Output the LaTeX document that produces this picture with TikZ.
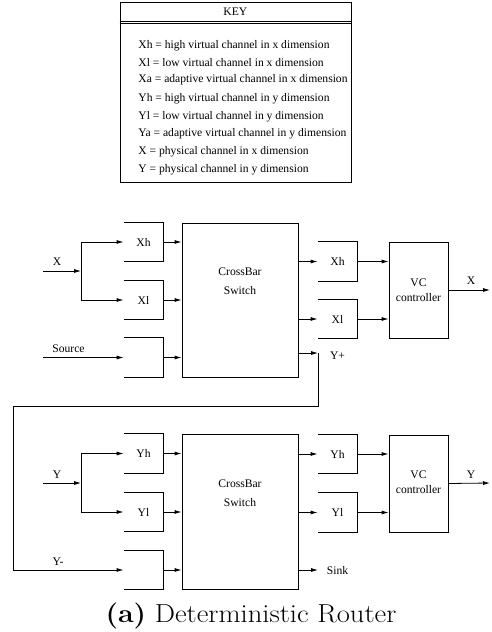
\documentclass[tikz,border=0pt]{standalone}
\usepackage{fontspec}
\setmainfont{Liberation Serif}
\newfontfamily\capfont{Latin Modern Roman}
\usetikzlibrary{arrows.meta}

\tikzset{
  lbl/.style={font=\fontsize{11.6}{14}\selectfont, inner sep=0pt},
  buf/.style={lbl, minimum width=39pt, minimum height=38.5pt},
  box/.style={draw, lbl},
  twoline/.style={lbl, align=center, font=\fontsize{11.6}{#1}\selectfont},
  wire/.style={->},
}

\begin{document}
\begin{tikzpicture}[x=1pt, y=-1pt, line width=0.8pt,
  >={Latex[length=7pt,width=4pt]}]
\useasboundingbox (0,0) rectangle (492,632);

% ---------- key ----------
\node[draw, minimum width=231pt, minimum height=180.5pt, anchor=north west, inner sep=0pt]
  (key) at (119.5,1.5) {};
\draw ([yshift=-19.5pt]key.north west) -- ([yshift=-19.5pt]key.north east);
\draw ([yshift=-22pt]key.north west) -- ([yshift=-22pt]key.north east);
\node[lbl] (keyhead) at (key.north |- 0,12) {KEY};
\foreach \i/\yy/\txt in {
  1/45.7/{Xh = high virtual channel in x dimension},
  2/62.3/{Xl = low virtual channel in x dimension},
  3/80/{Xa = adaptive virtual channel in x dimension},
  4/98.7/{Yh = high virtual channel in y dimension},
  5/116.7/{Yl = low virtual channel in y dimension},
  6/133.3/{Ya = adaptive virtual channel in y dimension},
  7/151.7/{X = physical channel in x dimension},
  8/169.3/{Y = physical channel in y dimension}}
  \node[lbl, anchor=west] (k\i) at (138,\yy) {\txt};

% ---------- upper router (x dimension) ----------
\node[buf] (xh) at (143.5,242) {Xh};
\node[buf] (xl) at (143.5,300) {Xl};
\node[buf] (src) at (143.5,357.5) {};
\foreach \b in {xh,xl,src}
  \draw (\b.north west) -| (\b.south east) -- (\b.south west);

\node[box, minimum width=116pt, minimum height=154pt] (cb1) at (240,300) {};
\node[twoline=19] (cb1t) at (240,281.5) {CrossBar\\Switch};

\node[buf] (oxh) at (337.5,261.5) {Xh};
\node[buf] (oxl) at (337.5,319) {Xl};
\foreach \b in {oxh,oxl}
  \draw (\b.north west) -| (\b.south east) -- (\b.south west);

\node[box, minimum width=59pt, minimum height=96pt] (vc1) at (418.5,290) {};
\node[twoline=15] (vc1t) at (418.5,290) {VC\\controller};

\coordinate (xin) at (43,271);
\coordinate (xsp) at (81,271);
\node[lbl] (xinl) at (57,262) {X};
\draw[wire] (xin) -- (xsp);
\draw[wire] (xsp) |- (xh.west);
\draw[wire] (xsp) |- (xl.west);

\coordinate (srcin) at (43,357.5);
\node[lbl] (srcl) at (68.5,349) {Source};
\draw[wire] (srcin) -- (src.west);

\foreach \b in {xh,xl,src}
  \draw[wire] (\b.east) -- (\b.east -| cb1.west);
\foreach \b in {oxh,oxl}
  \draw[wire] (cb1.east |- \b.west) -- (\b.west);

\coordinate (yp) at (318,353);
\draw[wire] (cb1.east |- yp) -- (yp);
\node[lbl] (ypl) at (337.5,356) {Y+};

\foreach \b in {oxh,oxl}
  \draw[wire] (\b.east) -- (\b.east -| vc1.west);
\coordinate (xout) at (490,290);
\draw[wire] (vc1.east) -- (xout);
\node[lbl] (xoutl) at (471,281) {X};

% ---------- lower router (y dimension) ----------
\node[buf] (yh) at (143.5,453.5) {Yh};
\node[buf] (yl) at (143.5,512) {Yl};
\node[buf] (ym) at (143.5,570) {};
\foreach \b in {yh,yl,ym}
  \draw (\b.north west) -| (\b.south east) -- (\b.south west);

\node[box, minimum width=116pt, minimum height=155pt] (cb2) at (240,511.5) {};
\node[twoline=19] (cb2t) at (240,493.5) {CrossBar\\Switch};

\node[buf] (oyh) at (337.5,454) {Yh};
\node[buf] (oyl) at (337.5,512.5) {Yl};
\foreach \b in {oyh,oyl}
  \draw (\b.north west) -| (\b.south east) -- (\b.south west);

\node[box, minimum width=59pt, minimum height=97pt] (vc2) at (418.5,483.5) {};
\node[twoline=15] (vc2t) at (418.5,482) {VC\\controller};

\coordinate (yin) at (43,483);
\coordinate (ysp) at (81,483);
\node[lbl] (yinl) at (57,475) {Y};
\draw[wire] (yin) -- (ysp);
\draw[wire] (ysp) |- (yh.west);
\draw[wire] (ysp) |- (yl.west);

% Y+ output looped back as the Y- input
\coordinate (loop) at (13,406);
\draw[wire] (yp) |- (loop) |- (ym.west);
\node[lbl] (yml) at (58,561.5) {Y-};

\foreach \b in {yh,yl,ym}
  \draw[wire] (\b.east) -- (\b.east -| cb2.west);
\foreach \b in {oyh,oyl}
  \draw[wire] (cb2.east |- \b.west) -- (\b.west);

\coordinate (sink) at (318,570);
\draw[wire] (cb2.east |- sink) -- (sink);
\node[lbl] (sinkl) at (337.5,571) {Sink};

\foreach \b in {oyh,oyl}
  \draw[wire] (\b.east) -- (\b.east -| vc2.west);
\coordinate (yout) at (490,483);
\draw[wire] (vc2.east) -- (yout);
\node[lbl] (youtl) at (471,475) {Y};

% ---------- caption ----------
\node[inner sep=0pt, anchor=base] (cap) at (251,622)
  {\scalebox{1.1}[1]{\capfont\fontsize{26}{30}\selectfont\textbf{(a)} Deterministic Router}};
\end{tikzpicture}
\end{document}
